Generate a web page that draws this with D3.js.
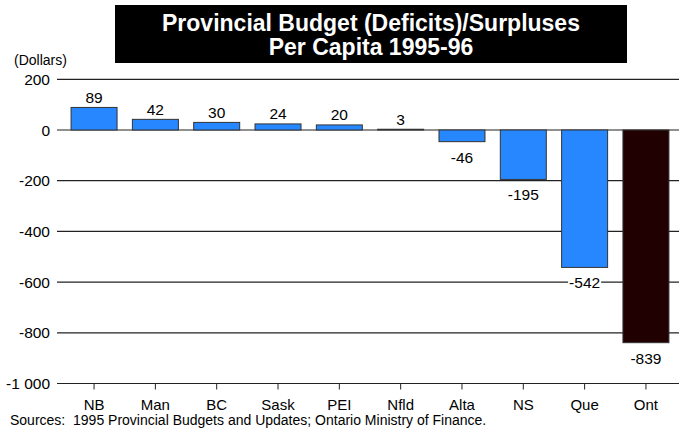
<!DOCTYPE html>
<html>
<head>
<meta charset="utf-8">
<script src="https://cdn.jsdelivr.net/npm/d3@7"></script>
<style>
  body { margin: 0; background: #fff; }
  text { font-family: "Liberation Sans", Arial, sans-serif; white-space: pre; }
</style>
</head>
<body>
<div id="chart"></div>
<script>
var provinces = ["NB", "Man", "BC", "Sask", "PEI", "Nfld", "Alta", "NS", "Que", "Ont"];
var perCapita = [89, 42, 30, 24, 20, 3, -46, -195, -542, -839];
var yTicks = [200, 0, -200, -400, -600, -800, -1000];
var yTickLabels = ["200", "0", "-200", "-400", "-600", "-800", "-1 000"];

var w = 679,
    h = 439;

var svg = d3.select("#chart")
  .append("svg")
  .attr("width", w)
  .attr("height", h);

var x = d3.scaleBand()
  .domain(provinces)
  .range([63.4, 676.6])
  .paddingInner(0.25)
  .paddingOuter(0.125);

var y = d3.scaleLinear()
  .domain([-1000, 200])
  .range([383.5, 79.3]);

// title box
svg.append("rect")
  .attr("x", 115).attr("y", 5)
  .attr("width", 512).attr("height", 58)
  .attr("fill", "#000");

svg.append("text")
  .attr("x", 371).attr("y", 31)
  .attr("text-anchor", "middle")
  .attr("fill", "#fff")
  .attr("font-size", 23).attr("font-weight", "bold")
  .text("Provincial Budget (Deficits)/Surpluses");
svg.append("text")
  .attr("x", 371).attr("y", 55)
  .attr("text-anchor", "middle")
  .attr("fill", "#fff")
  .attr("font-size", 23).attr("font-weight", "bold")
  .text("Per Capita 1995-96");

svg.append("text")
  .attr("x", 14).attr("y", 65)
  .attr("font-size", 14)
  .text("(Dollars)");

// gridlines
svg.selectAll(".grid")
  .data(yTicks)
  .enter()
  .append("line")
  .attr("class", "grid")
  .attr("x1", 57).attr("x2", 679)
  .attr("y1", function(d) { return y(d); })
  .attr("y2", function(d) { return y(d); })
  .attr("stroke", "#222")
  .attr("stroke-width", 1.2);

svg.selectAll(".ylab")
  .data(yTicks)
  .enter()
  .append("text")
  .attr("class", "ylab")
  .attr("x", 50)
  .attr("y", function(d) { return y(d) + 5.5; })
  .attr("text-anchor", "end")
  .attr("font-size", 15.5)
  .text(function(d, i) { return yTickLabels[i]; });

// x axis ticks and labels
var xAxis = d3.axisBottom(x).tickSize(6).tickPadding(10);
var gx = svg.append("g")
  .attr("transform", "translate(0," + y(-1000) + ")")
  .call(xAxis);
gx.select(".domain").remove();
gx.selectAll(".tick line").attr("stroke", "#222");
gx.selectAll(".tick text")
  .attr("font-size", 15)
  .attr("font-family", "Liberation Sans, Arial, sans-serif")
  .attr("fill", "#000");

// bars
svg.selectAll(".bar")
  .data(provinces)
  .enter()
  .append("rect")
  .attr("class", "bar")
  .attr("x", function(d) { return x(d); })
  .attr("width", x.bandwidth())
  .attr("y", function(d, i) { return y(Math.max(0, perCapita[i])); })
  .attr("height", function(d, i) { return Math.abs(y(perCapita[i]) - y(0)); })
  .attr("fill", function(d) { return d === "Ont" ? "#200000" : "#2787ff"; })
  .attr("stroke", "#333")
  .attr("stroke-width", 1);

// value labels
var labels = svg.selectAll(".val")
  .data(provinces)
  .enter()
  .append("g")
  .attr("class", "val");

labels.each(function(d, i) {
  var v = perCapita[i];
  var cx = x(d) + x.bandwidth() / 2;
  var ty = v >= 0 ? y(v) - 4.5 : y(v) + 21;
  var g = d3.select(this);
  var t = g.append("text")
    .attr("x", cx).attr("y", ty)
    .attr("text-anchor", "middle")
    .attr("font-size", 15.5)
    .text(v);
  if (v < 0) {
    var bb = t.node().getBBox();
    g.insert("rect", "text")
      .attr("x", bb.x - 1).attr("y", bb.y + 2)
      .attr("width", bb.width + 2).attr("height", bb.height - 4)
      .attr("fill", "#fff");
  }
});

svg.append("text")
  .attr("x", 10).attr("y", 425)
  .attr("font-size", 14)
  .text("Sources:  1995 Provincial Budgets and Updates; Ontario Ministry of Finance.");
</script>
</body>
</html>
